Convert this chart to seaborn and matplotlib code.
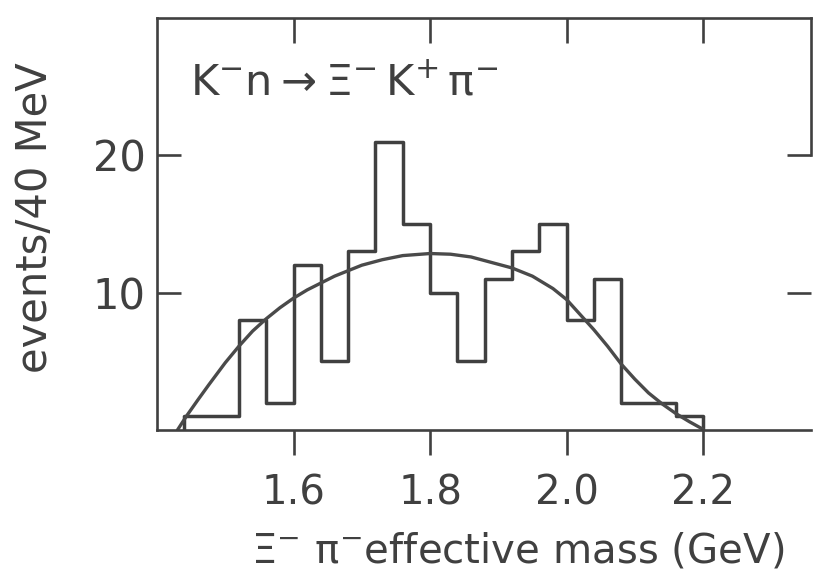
import numpy as np
import pandas as pd
import matplotlib
matplotlib.use("Agg")
import matplotlib.pyplot as plt
import seaborn as sns

# ---- data ----
bin_edges = [1.44, 1.48, 1.52, 1.56, 1.60, 1.64, 1.68, 1.72, 1.76, 1.80,
             1.84, 1.88, 1.92, 1.96, 2.00, 2.04, 2.08, 2.12, 2.16, 2.20]
bin_counts = [1, 1, 8, 2, 12, 5, 13, 21, 15, 10, 5, 11, 13, 15, 8, 11, 2, 2, 1]

curve_x = [1.430, 1.443, 1.460, 1.476, 1.500, 1.520, 1.540, 1.560, 1.580, 1.600,
           1.620, 1.640, 1.660, 1.680, 1.700, 1.730, 1.760, 1.800, 1.830, 1.860,
           1.890, 1.920, 1.950, 1.980, 2.000, 2.020, 2.040, 2.060, 2.080, 2.100,
           2.120, 2.140, 2.160, 2.180, 2.200]
curve_y = [0.0, 1.0, 2.2, 3.3, 4.9, 6.1, 7.2, 8.1, 8.9, 9.6,
           10.2, 10.7, 11.2, 11.6, 12.0, 12.4, 12.7, 12.85, 12.8, 12.6,
           12.2, 11.8, 11.2, 10.3, 9.5, 8.4, 7.3, 6.1, 4.8, 3.7,
           2.7, 1.9, 1.2, 0.6, 0.05]

x_ticks = [1.6, 1.8, 2.0, 2.2]
x_tick_labels = ["1.6", "1.8", "2.0", "2.2"]
y_ticks = [10, 20]
y_tick_labels = ["10", "20"]

reaction_label = r"$\mathregular{K^{-}n \rightarrow Ξ^{-}\,K^{+}\,π^{-}}$"
x_label = r"$\mathregular{Ξ^{-}\ π^{-}}$effective mass (GeV)"
y_label = "events/40 MeV"

# ---- style ----
sns.set_theme(style="white")
plt.rcParams["font.family"] = ["DejaVu Sans"]
plt.rcParams["mathtext.fontset"] = "dejavusans"
ink = "#404040"

W, H = 813, 582
fig = plt.figure(figsize=(W / 100, H / 100), dpi=100)
fig.patch.set_facecolor("white")
ax_l, ax_r, ax_t, ax_b = 157, 811, 18, 430
ax = fig.add_axes([ax_l / W, 1 - ax_b / H, (ax_r - ax_l) / W, (ax_b - ax_t) / H])
ax.set_facecolor("white")

centers = [(a + b) / 2 for a, b in zip(bin_edges[:-1], bin_edges[1:])]
df = pd.DataFrame({"mass": centers, "n": bin_counts})
sns.histplot(data=df, x="mass", weights="n", bins=bin_edges, element="step",
             fill=False, color=ink, linewidth=2.5, ax=ax)
# closing edges of the step outline down to the baseline
ax.vlines([bin_edges[0], bin_edges[-1]], 0, [bin_counts[0], bin_counts[-1]],
          color=ink, linewidth=2.5)

sns.lineplot(x=curve_x, y=curve_y, color="#4a4a4a", linewidth=2.4, ax=ax)

ax.set_xlim(1.40, 2.358)
ax.set_ylim(0, 30)
ax.set_xticks(x_ticks)
ax.set_xticklabels(x_tick_labels)
ax.set_yticks(y_ticks)
ax.set_yticklabels(y_tick_labels)
ax.set_xlabel("")
ax.set_ylabel("")

for s in ax.spines.values():
    s.set_visible(True)
    s.set_color(ink)
    s.set_linewidth(1.9)
ax.spines["right"].set_bounds(20, 30)

ax.tick_params(axis="x", direction="out", length=18, width=1.9, pad=13,
               labelsize=29, colors=ink, bottom=True, top=False)
ax.tick_params(axis="y", direction="in", length=17, width=1.9, pad=8,
               labelsize=30, colors=ink, left=True, right=True)

sec = ax.secondary_xaxis("top")
sec.set_xticks(x_ticks)
sec.tick_params(axis="x", direction="in", length=18, width=1.9,
                labeltop=False, colors=ink)
sec.spines["top"].set_visible(False)

fig.text(190 / W, 1 - 83 / H, reaction_label, ha="left", va="center",
         fontsize=31, color=ink)
fig.text(35 / W, 1 - 218 / H, y_label, rotation=90, ha="center", va="center",
         fontsize=30, color=ink)
fig.text(518 / W, 1 - 552 / H, x_label, ha="center", va="center",
         fontsize=29, color=ink)

fig.savefig("out.png", dpi=100, facecolor="white")
